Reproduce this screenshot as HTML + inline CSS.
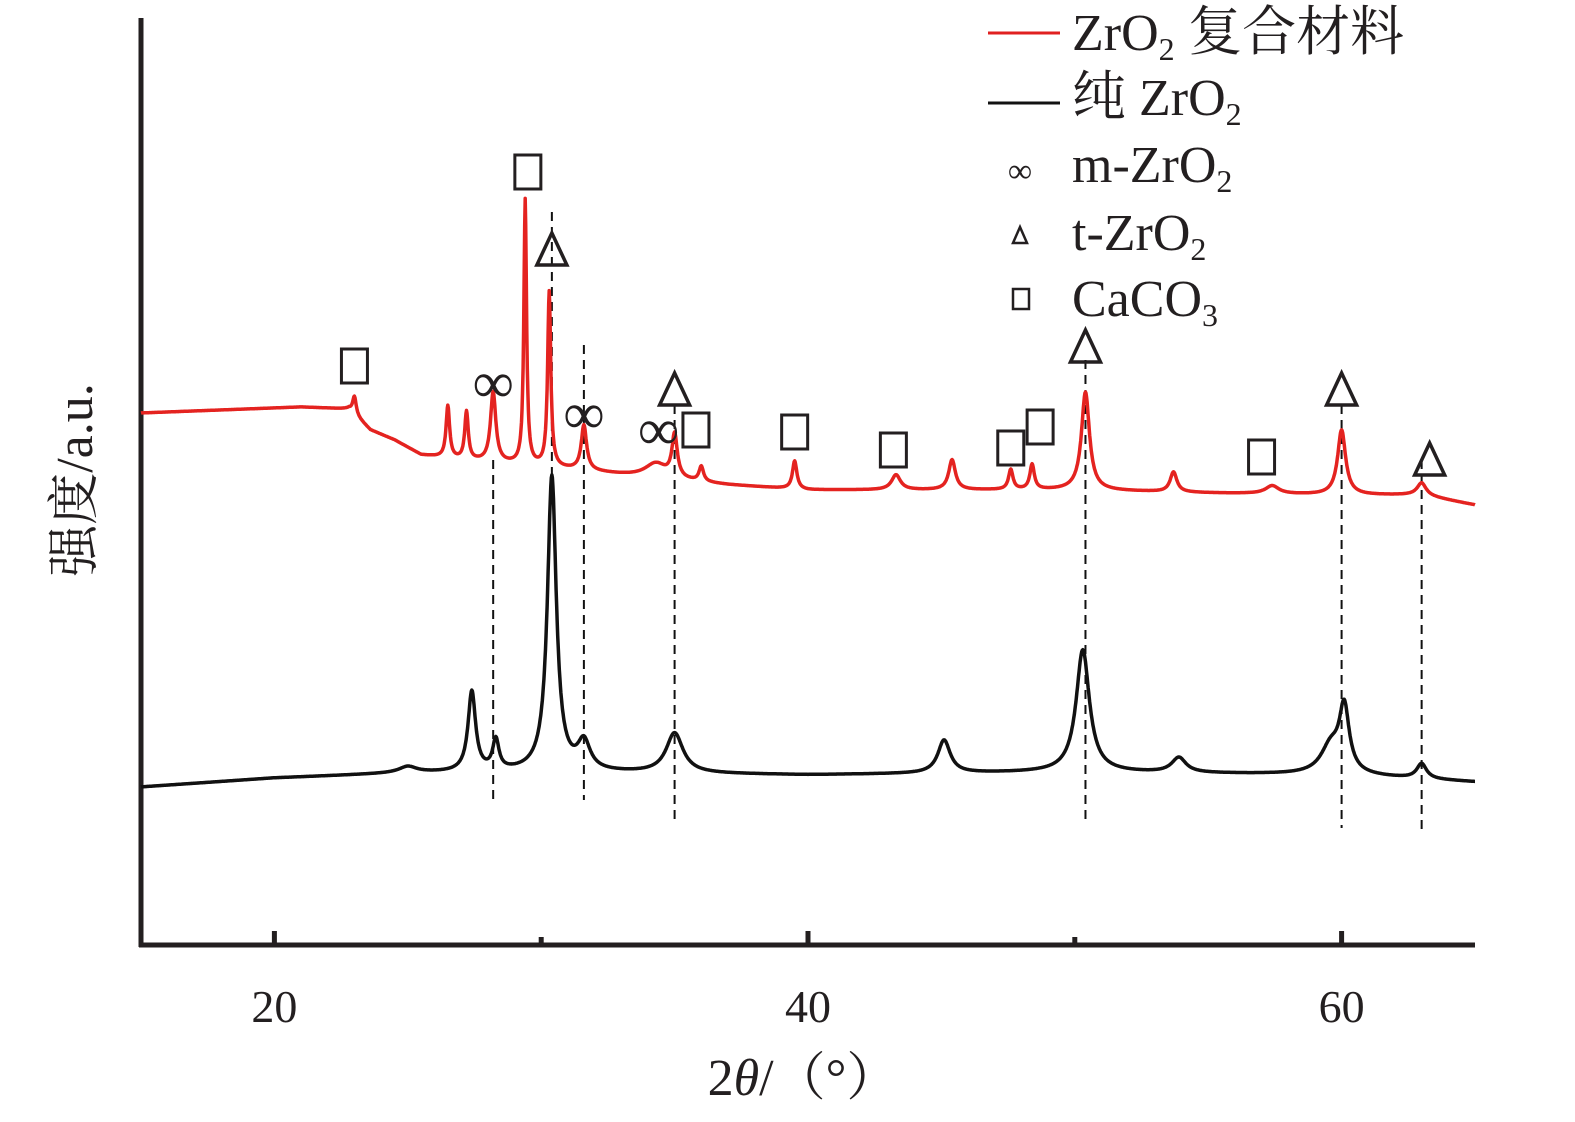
<!DOCTYPE html>
<html><head><meta charset="utf-8"><style>
html,body{margin:0;padding:0;background:#fff;}
svg{display:block;font-family:"Liberation Serif","Noto Serif CJK SC",serif;}
</style></head><body>
<svg id="chart" width="1575" height="1122" viewBox="0 0 1575 1122" xmlns="http://www.w3.org/2000/svg">
<g id="axes"></g>
<g id="dashes"></g>
<g id="series"></g>
<g id="marks"></g>
<text transform="translate(92,480) rotate(-90)" text-anchor="middle" font-size="52" fill="#231f20" font-family="Liberation Serif, Noto Serif CJK SC, serif">强度/a.u.</text>
<text x="803" y="1095" text-anchor="middle" font-size="52" fill="#231f20">2<tspan font-style="italic">θ</tspan>/（°）</text>
<g font-size="52" fill="#231f20">
 <line x1="988" y1="33" x2="1060" y2="33" stroke="#e02020" stroke-width="3"/>
 <text x="1072" y="50">ZrO<tspan font-size="32" dy="10">2</tspan><tspan dy="-10" font-size="54"> 复合材料</tspan></text>
 <line x1="988" y1="103" x2="1060" y2="103" stroke="#111" stroke-width="3"/>
 <text x="1072" y="115"><tspan font-size="54">纯</tspan> ZrO<tspan font-size="32" dy="10">2</tspan></text>
 <text x="1020" y="182" font-size="34" text-anchor="middle">∞</text>
 <text x="1072" y="182">m-ZrO<tspan font-size="32" dy="10">2</tspan></text>
 <polygon points="1020,227 1013,243 1027,243" fill="none" stroke="#231f20" stroke-width="2.5"/>
 <text x="1072" y="250">t-ZrO<tspan font-size="32" dy="10">2</tspan></text>
 <rect x="1013" y="289" width="16" height="20" fill="none" stroke="#231f20" stroke-width="2.5"/>
 <text x="1072" y="316">CaCO<tspan font-size="32" dy="10">3</tspan></text>
</g>
</svg>
<script>
// ---- data ----
const xTicks = [20, 30, 40, 50, 60];
const xTickLabels = ["20", "", "40", "", "60"];
// composite (red) baseline: angle -> intensity
const redBaseX = [15, 18, 21, 22.8, 23.6, 24.5, 25.5, 27, 30, 32, 34, 37, 40, 45, 50, 55, 60, 63, 65];
const redBaseY = [532, 535, 538, 536, 515, 505, 490, 485, 478, 473, 467, 460, 455, 455, 455, 452, 450, 450, 440];
const redPeakPos = [23.0, 26.5, 27.2, 28.2, 29.4, 30.3, 31.6, 34.3, 35.0, 36.0, 39.5, 43.3, 45.4, 47.6, 48.4, 50.4, 53.7, 57.4, 60.0, 63.0];
const redPeakH   = [18, 52, 48, 70, 265, 175, 45, 15, 43, 15, 28, 15, 30, 20, 25, 98, 20, 8, 65, 12];
const redPeakW   = [0.08, 0.08, 0.08, 0.12, 0.06, 0.07, 0.12, 0.5, 0.12, 0.1, 0.1, 0.2, 0.15, 0.1, 0.1, 0.18, 0.15, 0.3, 0.18, 0.2];
// pure (black) baseline
const blkBaseX = [15, 20, 25, 30, 40, 50, 60, 65];
const blkBaseY = [158, 167, 172, 173, 170, 173, 170, 163];
const blkPeakPos = [25.0, 27.4, 28.3, 30.4, 31.6, 35.0, 45.1, 50.3, 53.9, 59.6, 60.1, 63.0];
const blkPeakH   = [6, 80, 30, 295, 28, 40, 33, 122, 15, 28, 63, 15];
const blkPeakW   = [0.4, 0.17, 0.14, 0.2, 0.28, 0.38, 0.28, 0.3, 0.32, 0.45, 0.22, 0.22];
// reference dashed lines: angle, top intensity, bottom intensity
const dashPos = [28.2, 30.4, 31.6, 35.0, 50.4, 60.0, 63.0];
const dashTop = [485, 733, 600, 540, 585, 540, 485];
const dashBot = [145, 445, 145, 123, 120, 117, 115];
// phase markers: angle, intensity, type
const mkPos  = [23.0, 29.5, 35.8, 39.5, 43.2, 47.6, 48.7, 57.0, 30.4, 35.0, 50.4, 60.0, 63.3, 28.2, 31.6, 34.4];
const mkVal  = [579, 773, 515, 513, 495, 497, 518, 488, 695, 555, 598, 555, 485, 561, 530, 514];
const mkType = ["s","s","s","s","s","s","s","s","t","t","t","t","t","m","m","m"];

// ---- axes ----
const X0 = 141, X1 = 1475, Y0 = 945;
const xScale = v => X0 + (v - 15) * (X1 - X0) / 50;
const yScale = v => Y0 - v;
const NS = "http://www.w3.org/2000/svg";
function mk(tag, parent) { const e = document.createElementNS(NS, tag); parent.appendChild(e); return e; }

const axes = document.getElementById('axes');
let yl = mk('line', axes);


yl.setAttribute('x1', X0); yl.setAttribute('y1', 18); yl.setAttribute('x2', X0); yl.setAttribute('y2', Y0 + 2);
yl.setAttribute('stroke', '#231f20'); yl.setAttribute('stroke-width', 5);
let xl = mk('line', axes);


xl.setAttribute('x1', X0 - 2); xl.setAttribute('y1', Y0); xl.setAttribute('x2', X1); xl.setAttribute('y2', Y0);
xl.setAttribute('stroke', '#231f20'); xl.setAttribute('stroke-width', 5);
xTicks.forEach((t, i) => {
  const tk = mk('line', axes);
  
  
  const len = xTickLabels[i] ? 14 : 8;
  tk.setAttribute('x1', xScale(t)); tk.setAttribute('x2', xScale(t));
  tk.setAttribute('y1', Y0); tk.setAttribute('y2', Y0 - len);
  tk.setAttribute('stroke', '#231f20'); tk.setAttribute('stroke-width', 5);
  if (xTickLabels[i]) {
    const tl = mk('text', axes);
    
    
    tl.setAttribute('x', xScale(t)); tl.setAttribute('y', 1022);
    tl.setAttribute('text-anchor', 'middle'); tl.setAttribute('font-size', 46); tl.setAttribute('fill', '#231f20');
    tl.textContent = xTickLabels[i];
  }
});

// ---- series ----
function interp(xs, ys, v) {
  if (v <= xs[0]) return ys[0];
  for (let i = 1; i < xs.length; i++) if (v <= xs[i]) {
    const f = (v - xs[i-1]) / (xs[i] - xs[i-1]); return ys[i-1] + f * (ys[i] - ys[i-1]);
  }
  return ys[ys.length - 1];
}
function profile(bx, by, pp, ph, pw, v) {
  let s = interp(bx, by, v);
  for (let i = 0; i < pp.length; i++) { const d = (v - pp[i]) / pw[i]; s += ph[i] / (1 + d * d); }
  return s;
}
function drawSeries(name, color, bx, by, pp, ph, pw) {
  const p = mk('path', document.getElementById('series'));
  
  
  let d = '';
  for (let v = 15; v <= 65.0001; v += 0.02) {
    d += (d ? 'L' : 'M') + xScale(v).toFixed(1) + ',' + yScale(profile(bx, by, pp, ph, pw, v)).toFixed(1);
  }
  p.setAttribute('d', d); p.setAttribute('fill', 'none');
  p.setAttribute('stroke', color); p.setAttribute('stroke-width', 3.5); p.setAttribute('stroke-linejoin', 'round');
}
drawSeries('composite-zro2-curve', '#e42320', redBaseX, redBaseY, redPeakPos, redPeakH, redPeakW);
drawSeries('pure-zro2-curve', '#111', blkBaseX, blkBaseY, blkPeakPos, blkPeakH, blkPeakW);

// ---- dashed reference lines ----
const dg = document.getElementById('dashes');
dashPos.forEach((a, i) => {
  const l = mk('line', dg);
  
  
  l.setAttribute('x1', xScale(a)); l.setAttribute('x2', xScale(a));
  l.setAttribute('y1', yScale(dashTop[i])); l.setAttribute('y2', yScale(dashBot[i]));
  l.setAttribute('stroke', '#111'); l.setAttribute('stroke-width', 2); l.setAttribute('stroke-dasharray', '9,6');
});

// ---- markers ----
const mg = document.getElementById('marks');
mkPos.forEach((a, i) => {
  const cx = xScale(a), cy = yScale(mkVal[i]);
  let e;
  if (mkType[i] === 's') {
    e = mk('rect', mg);
    
    
    e.setAttribute('x', cx - 13); e.setAttribute('y', cy - 17); e.setAttribute('width', 26); e.setAttribute('height', 34);
    e.setAttribute('fill', 'none'); e.setAttribute('stroke', '#231f20'); e.setAttribute('stroke-width', 3);
  } else if (mkType[i] === 't') {
    e = mk('polygon', mg);
    
    
    e.setAttribute('points', `${cx},${cy-17} ${cx-15},${cy+15} ${cx+15},${cy+15}`);
    e.setAttribute('fill', 'none'); e.setAttribute('stroke', '#231f20'); e.setAttribute('stroke-width', 3.5);
  } else {
    e = mk('text', mg);
    
    
    e.setAttribute('x', cx); e.setAttribute('y', cy + 18); e.setAttribute('text-anchor', 'middle');
    e.setAttribute('font-size', 58); e.setAttribute('fill', '#231f20');
    e.textContent = '∞';
  }
});
</script>
</body></html>
